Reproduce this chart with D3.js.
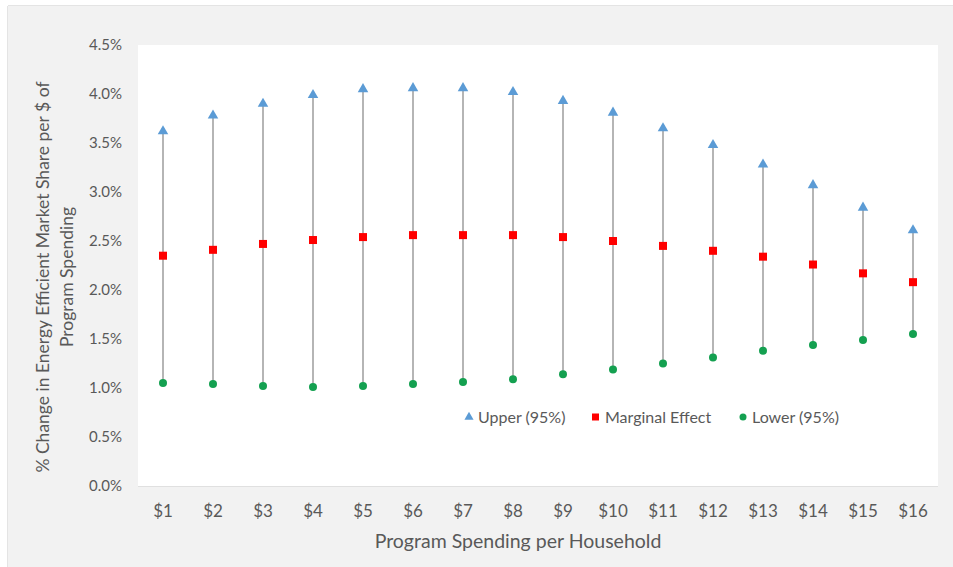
<!DOCTYPE html>
<html>
<head>
<meta charset="utf-8">
<script src="https://cdn.jsdelivr.net/npm/d3@7"></script>
<style>
  html, body { margin: 0; padding: 0; background: #ffffff; }
  svg { display: block; font-family: Lato, "Open Sans", sans-serif; }
</style>
</head>
<body>
<svg id="chart" width="953" height="567"></svg>
<script>
// Program spending per household (x categories)
const categories = ["$1","$2","$3","$4","$5","$6","$7","$8","$9","$10","$11","$12","$13","$14","$15","$16"];
// Upper 95% bound, % change in energy efficient market share per $ of spending
const upper = [3.62, 3.78, 3.90, 3.99, 4.05, 4.06, 4.06, 4.02, 3.93, 3.81, 3.65, 3.48, 3.28, 3.07, 2.84, 2.61];
// Marginal effect (point estimate)
const marginal = [2.35, 2.41, 2.47, 2.51, 2.54, 2.56, 2.56, 2.56, 2.54, 2.50, 2.45, 2.40, 2.34, 2.26, 2.17, 2.08];
// Lower 95% bound
const lower = [1.05, 1.04, 1.02, 1.01, 1.02, 1.04, 1.06, 1.09, 1.14, 1.19, 1.25, 1.31, 1.38, 1.44, 1.49, 1.55];
// Y tick values (percent)
const yTicks = [0, 0.5, 1.0, 1.5, 2.0, 2.5, 3.0, 3.5, 4.0, 4.5];

const svg = d3.select("#chart");
const W = 953, H = 567;
const plot = { left: 138, right: 938, top: 45, bottom: 486 };

const textColor = "#595959";
const colUpper = "#5b9bd5", colMarg = "#ff0000", colLower = "#14a050";
const font = "Lato, 'Open Sans', sans-serif";

// chart background panel
svg.append("rect").attr("x", 8).attr("y", 6).attr("width", W - 8).attr("height", H - 6)
  .attr("fill", "#f2f2f2");
svg.append("line").attr("x1", 8).attr("x2", W).attr("y1", 5.5).attr("y2", 5.5)
  .attr("stroke", "#e4e4e4").attr("stroke-width", 1);
svg.append("line").attr("x1", 7.5).attr("x2", 7.5).attr("y1", 6).attr("y2", H)
  .attr("stroke", "#e4e4e4").attr("stroke-width", 1);

// plot area
svg.append("rect").attr("x", plot.left).attr("y", plot.top)
  .attr("width", plot.right - plot.left).attr("height", plot.bottom - plot.top)
  .attr("fill", "#ffffff");

const x = d3.scaleBand().domain(categories).range([plot.left, plot.right]).padding(0);
const y = d3.scaleLinear().domain([0, 4.5]).range([plot.bottom, plot.top]);
const cx = d => x(d) + x.bandwidth() / 2;

// bottom axis line
svg.append("line").attr("x1", plot.left).attr("x2", plot.right)
  .attr("y1", plot.bottom + 0.5).attr("y2", plot.bottom + 0.5)
  .attr("stroke", "#e0e0e0").attr("stroke-width", 1);

// y axis
const yAxis = svg.append("g").attr("transform", `translate(${plot.left},0)`)
  .call(d3.axisLeft(y).tickValues(yTicks).tickFormat(d => d.toFixed(1) + "%").tickSize(0).tickPadding(16));
yAxis.select(".domain").remove();
yAxis.selectAll("text").attr("fill", textColor).style("font-size", "15px").style("font-family", font);

// x axis
const xAxis = svg.append("g").attr("transform", `translate(0,${plot.bottom})`)
  .call(d3.axisBottom(x).tickSize(0).tickPadding(19));
xAxis.select(".domain").remove();
xAxis.selectAll("text").attr("fill", textColor).style("font-size", "17px").style("font-family", font);

// axis titles
svg.append("text").attr("x", 518).attr("y", 548).attr("text-anchor", "middle")
  .attr("fill", textColor).style("font-size", "19.5px").text("Program Spending per Household");

const yTitle = svg.append("text").attr("transform", "translate(49,277) rotate(-90)")
  .attr("text-anchor", "middle").attr("fill", textColor).style("font-size", "17.5px");
yTitle.append("tspan").attr("x", 0).attr("dy", 0).text("% Change in Energy Efficient Market Share per $ of");
yTitle.append("tspan").attr("x", 0).attr("dy", 24).text("Program Spending");

// range lines from upper to lower bound
svg.append("g").selectAll("line").data(categories).join("line")
  .attr("x1", cx).attr("x2", cx)
  .attr("y1", (d, i) => y(upper[i])).attr("y2", (d, i) => y(lower[i]))
  .attr("stroke", "#a3a3a3").attr("stroke-width", 1.6);

const tri = d3.symbol().type(d3.symbolTriangle).size(48);

// upper markers
svg.append("g").selectAll("path").data(categories).join("path")
  .attr("d", tri)
  .attr("transform", (d, i) => `translate(${cx(d)},${y(upper[i])})`)
  .attr("fill", colUpper);

// marginal effect markers
svg.append("g").selectAll("rect").data(categories).join("rect")
  .attr("x", d => cx(d) - 4).attr("y", (d, i) => y(marginal[i]) - 4)
  .attr("width", 8).attr("height", 8).attr("fill", colMarg);

// lower markers
svg.append("g").selectAll("circle").data(categories).join("circle")
  .attr("cx", cx).attr("cy", (d, i) => y(lower[i])).attr("r", 4)
  .attr("fill", colLower);

// legend
const legendY = 417;
const legend = svg.append("g").style("font-size", "16px").attr("fill", textColor);
legend.append("path").attr("d", d3.symbol().type(d3.symbolTriangle).size(36))
  .attr("transform", `translate(469,${legendY})`).attr("fill", colUpper);
legend.append("text").attr("x", 478).attr("y", legendY).attr("dy", "0.35em").text("Upper (95%)");
legend.append("rect").attr("x", 592).attr("y", legendY - 3.5).attr("width", 7).attr("height", 7).attr("fill", colMarg);
legend.append("text").attr("x", 605).attr("y", legendY).attr("dy", "0.35em").text("Marginal Effect");
legend.append("circle").attr("cx", 743).attr("cy", legendY).attr("r", 3.5).attr("fill", colLower);
legend.append("text").attr("x", 752).attr("y", legendY).attr("dy", "0.35em").text("Lower (95%)");
</script>
</body>
</html>
